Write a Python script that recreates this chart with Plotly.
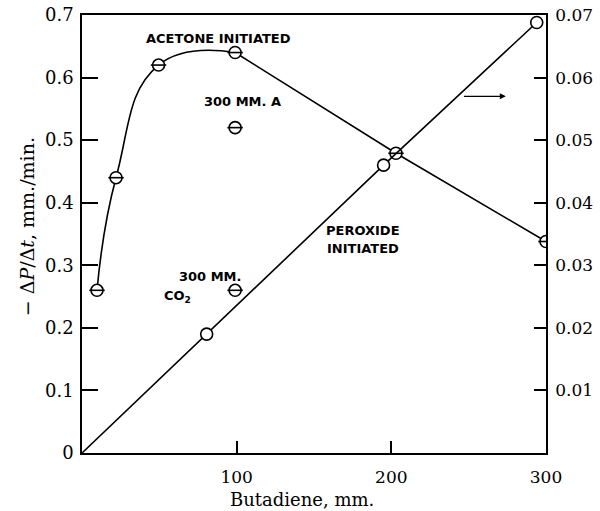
import plotly.graph_objects as go

# Acetone-initiated series (left axis)
acetone_x = [9.7, 22, 49.5, 99, 203, 300]
acetone_y = [0.26, 0.44, 0.62, 0.64, 0.479, 0.338]

# Peroxide-initiated series (right axis)
peroxide_x = [0, 80.6, 195, 294]
peroxide_y = [0, 0.019, 0.046, 0.0688]

# Extra single points (left axis)
extra_x = [99, 99]
extra_y = [0.52, 0.26]

left_ticks = [0, 0.1, 0.2, 0.3, 0.4, 0.5, 0.6, 0.7]
left_labels = ["0", "0.1", "0.2", "0.3", "0.4", "0.5", "0.6", "0.7"]
right_ticks = [0.01, 0.02, 0.03, 0.04, 0.05, 0.06, 0.07]
right_labels = ["0.01", "0.02", "0.03", "0.04", "0.05", "0.06", "0.07"]
x_ticks = [100, 200, 300]
x_labels = ["100", "200", "300"]

serif = "DejaVu Serif"
sans = "DejaVu Sans"

fig = go.Figure()

# acetone curve: smooth rise, then straight segments
fig.add_trace(go.Scatter(x=acetone_x[:4], y=acetone_y[:4], mode="lines",
                         line=dict(color="black", width=1.6, shape="spline", smoothing=1.3),
                         hoverinfo="skip", showlegend=False))
fig.add_trace(go.Scatter(x=acetone_x[3:], y=acetone_y[3:], mode="lines",
                         line=dict(color="black", width=1.6),
                         hoverinfo="skip", showlegend=False))
# peroxide line
fig.add_trace(go.Scatter(x=peroxide_x, y=peroxide_y, mode="lines", yaxis="y2",
                         line=dict(color="black", width=1.6),
                         hoverinfo="skip", showlegend=False))

# theta markers (circle + bar)
def theta(xs, ys, yaxis="y"):
    fig.add_trace(go.Scatter(x=xs, y=ys, mode="markers", yaxis=yaxis,
                             marker=dict(symbol="circle", size=12, color="white",
                                         line=dict(color="black", width=1.6)),
                             hoverinfo="skip", showlegend=False))
    fig.add_trace(go.Scatter(x=xs, y=ys, mode="markers", yaxis=yaxis,
                             marker=dict(symbol="line-ew", size=11,
                                         line=dict(color="black", width=1.6)),
                             hoverinfo="skip", showlegend=False))

theta(acetone_x, acetone_y)
theta(extra_x, extra_y)

# peroxide open circles
fig.add_trace(go.Scatter(x=peroxide_x[1:], y=peroxide_y[1:], mode="markers", yaxis="y2",
                         marker=dict(symbol="circle", size=12, color="white",
                                     line=dict(color="black", width=1.6)),
                         hoverinfo="skip", showlegend=False))

ann_font = dict(family=sans, size=13, color="black", weight="bold")
annotations = [
    dict(x=88, y=0.662, text="ACETONE INITIATED"),
    dict(x=104, y=0.562, text="300 MM. A"),
    dict(x=182, y=0.355, text="PEROXIDE"),
    dict(x=182, y=0.327, text="INITIATED"),
    dict(x=83, y=0.282, text="300 MM."),
    dict(x=61.5, y=0.250, text="CO<sub>2</sub>"),
]
for a in annotations:
    fig.add_annotation(x=a["x"], y=a["y"], text=a["text"], showarrow=False,
                       font=ann_font, xref="x", yref="y")

fig.add_annotation(x=274, y=0.570, ax=246, ay=0.570, axref="x", ayref="y",
                   xref="x", yref="y", text="", showarrow=True,
                   arrowhead=2, arrowsize=1, arrowwidth=1.2, arrowcolor="black")

# axis titles
fig.add_annotation(x=0.474, y=-0.107, xref="paper", yref="paper",
                   xanchor="center", yanchor="middle",
                   text="Butadiene, mm.", showarrow=False,
                   font=dict(family=serif, size=18, color="black"))
fig.add_annotation(x=-0.118, y=0.516, xref="paper", yref="paper",
                   xanchor="center", yanchor="middle", textangle=-90,
                   text="− Δ<i>P</i>/Δ<i>t</i>, mm./min.", showarrow=False,
                   font=dict(family=serif, size=19, color="black"))

fig.update_layout(
    width=600, height=511,
    margin=dict(l=82, r=54, t=15, b=58),
    paper_bgcolor="white", plot_bgcolor="white",
    font=dict(family=serif, color="black", size=17),
    xaxis=dict(range=[0, 300], tickvals=x_ticks, ticktext=x_labels,
               ticks="inside", ticklen=12, tickwidth=1.5, tickcolor="black",
               showline=True, linecolor="black", linewidth=1.6, mirror=True,
               showgrid=False, zeroline=False, automargin=False,
               ticklabelstandoff=8, tickfont=dict(size=17)),
    yaxis=dict(range=[0, 0.7], tickvals=left_ticks, ticktext=left_labels,
               ticks="inside", ticklen=16, tickwidth=1.5, tickcolor="black",
               showline=True, linecolor="black", linewidth=1.6,
               showgrid=False, zeroline=False, automargin=False,
               ticklabelstandoff=3, tickfont=dict(size=18)),
    yaxis2=dict(range=[0, 0.07], tickvals=right_ticks, ticktext=right_labels,
                overlaying="y", side="right",
                ticks="inside", ticklen=12, tickwidth=1.5, tickcolor="black",
                showline=True, linecolor="black", linewidth=1.6,
                showgrid=False, zeroline=False, automargin=False,
                ticklabelstandoff=4, tickfont=dict(size=17)),
)

fig.write_html("out.html", config={"displayModeBar": False},
               post_script="document.body.style.margin='0';")
